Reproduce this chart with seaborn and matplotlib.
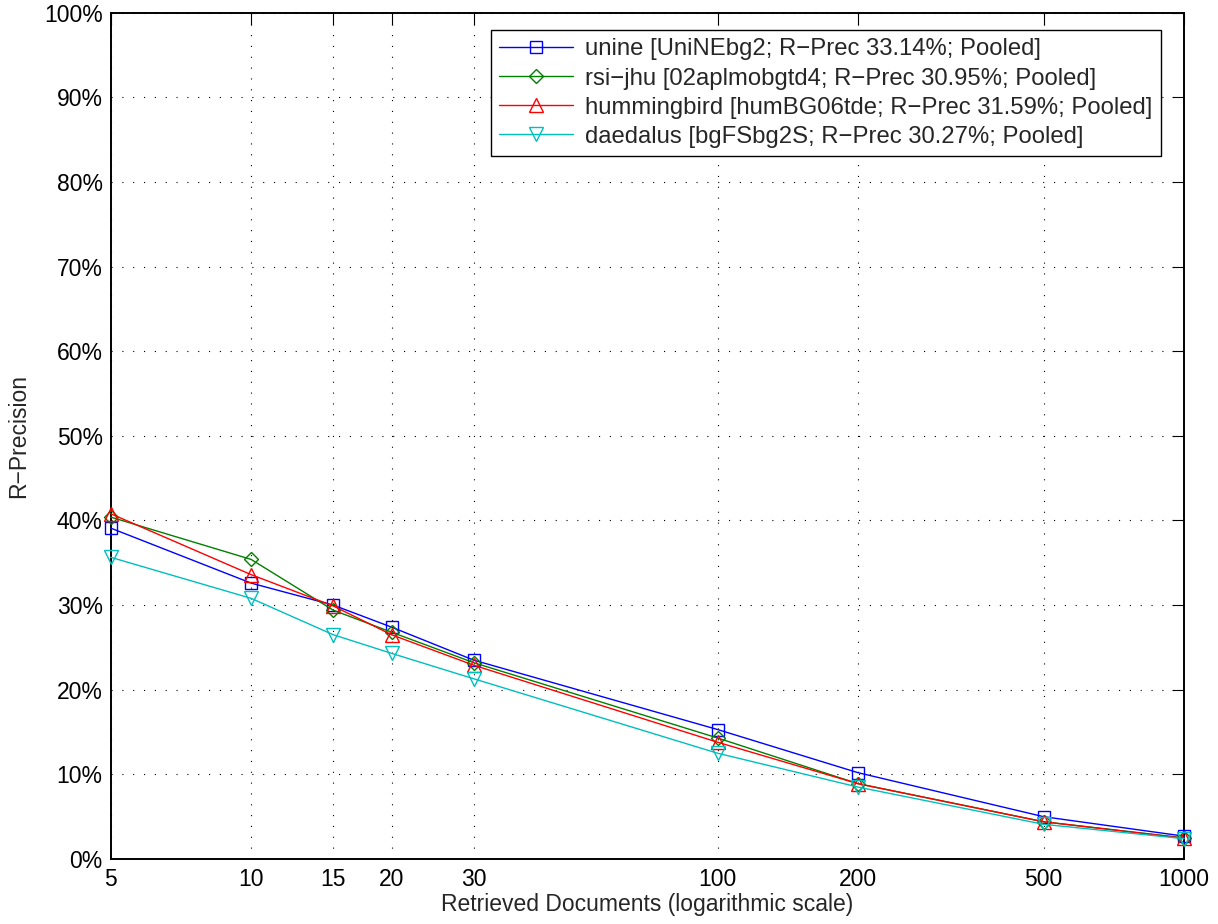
import numpy as np
import pandas as pd
import matplotlib
matplotlib.use("Agg")
import matplotlib.pyplot as plt
import seaborn as sns

# retrieved documents (x) and R-Precision in percent per run
docs = [5, 10, 15, 20, 30, 100, 200, 500, 1000]
unine = [39.1, 32.6, 30.0, 27.4, 23.5, 15.3, 10.2, 5.0, 2.7]
rsi_jhu = [40.4, 35.4, 29.4, 26.8, 23.2, 14.3, 8.9, 4.4, 2.5]
hummingbird = [40.8, 33.6, 29.9, 26.5, 22.9, 13.8, 8.9, 4.4, 2.45]
daedalus = [35.65, 30.8, 26.5, 24.3, 21.3, 12.5, 8.5, 4.1, 2.4]

labels = [
    "unine [UniNEbg2; R\u2212Prec 33.14%; Pooled]",
    "rsi\u2212jhu [02aplmobgtd4; R\u2212Prec 30.95%; Pooled]",
    "hummingbird [humBG06tde; R\u2212Prec 31.59%; Pooled]",
    "daedalus [bgFSbg2S; R\u2212Prec 30.27%; Pooled]",
]
colors = ["#0000ff", "#008000", "#ff0000", "#00bfbf"]
markers = ["s", "D", "^", "v"]
msizes = [9, 7.5, 10.5, 10.5]
series = [unine, rsi_jhu, hummingbird, daedalus]

rows = []
for lab, vals in zip(labels, series):
    for d, v in zip(docs, vals):
        rows.append({"docs": d, "rprec": v, "run": lab})
df = pd.DataFrame(rows)

sns.set_theme(style="white")
plt.rcParams["font.family"] = ["Liberation Sans", "DejaVu Sans"]
plt.rcParams["font.size"] = 16.5
plt.rcParams["lines.scale_dashes"] = False

fig = plt.figure(figsize=(12.18, 9.24), dpi=100)
ax = fig.add_axes([110.7 / 1218, 65 / 924, (1184 - 110.7) / 1218, (859 - 12.7) / 924])

for lab, c, m, ms in zip(labels, colors, markers, msizes):
    sub = df[df["run"] == lab]
    sns.lineplot(data=sub, x="docs", y="rprec", ax=ax, color=c, label=lab,
                 marker=m, markersize=ms, markerfacecolor="none",
                 markeredgecolor=c, markeredgewidth=1.0, linewidth=1.0,
                 clip_on=False, zorder=3)

ax.set_xscale("log")
ax.set_xlim(5, 1000)
ax.set_ylim(0, 100)
ax.set_xticks(docs)
ax.set_xticklabels([str(d) for d in docs])
ax.minorticks_off()
yt = np.arange(0, 101, 10)
ax.set_yticks(yt)
ax.set_yticklabels([f"{v}%" for v in yt])

ax.grid(True, color="black", linestyle=(0, (0.8, 7.0)), linewidth=0.8)
for sp in ax.spines.values():
    sp.set_visible(True)
    sp.set_color("black")
    sp.set_linewidth(1.4)
ax.tick_params(axis="both", which="major", direction="in", length=8.5, width=0.8,
               top=True, right=True, labelsize=16.5, colors="black")
ax.tick_params(axis="x", pad=6.8)
ax.tick_params(axis="y", pad=5.8)

ax.set_xlabel("Retrieved Documents (logarithmic scale)", fontsize=16.5, labelpad=1)
ax.set_ylabel("R\u2212Precision", fontsize=16.5, labelpad=10)

leg = ax.legend(loc="upper right", bbox_to_anchor=(1161 / 1218, 1 - 30 / 924),
                bbox_transform=fig.transFigure, borderaxespad=0, fancybox=False,
                framealpha=1, edgecolor="black", fontsize=17.2, handlelength=3.1,
                handletextpad=0.5, labelspacing=0.3, borderpad=0.35)
leg.get_frame().set_linewidth(1.0)
leg.set_zorder(5)

fig.savefig("out.png", dpi=100)
